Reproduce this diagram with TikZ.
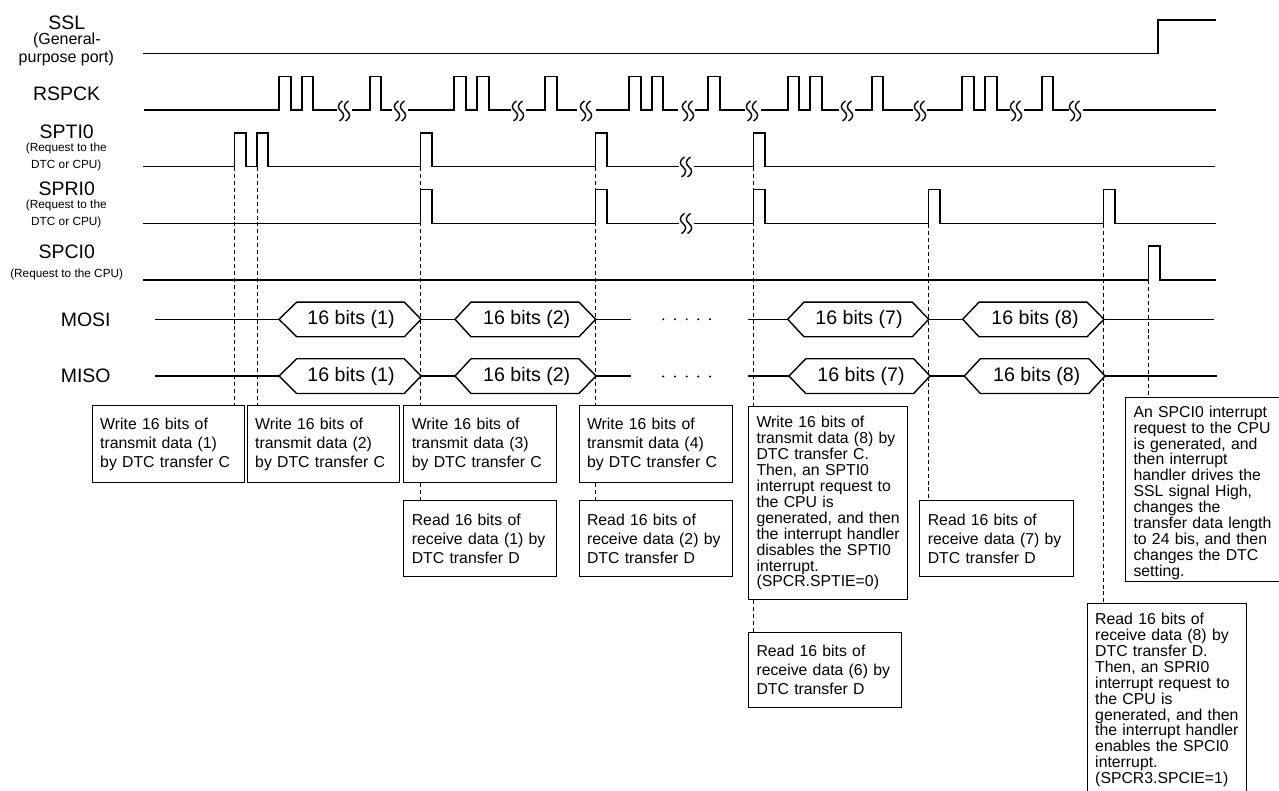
\documentclass[tikz,border=0pt]{standalone}
\usepackage{fontspec}
\setmainfont{Liberation Sans}
\tikzset{
  sig/.style={line width=1.1pt,line join=miter},
  hexline/.style={line width=1.05pt,line join=miter},
  squigline/.style={line width=1.05pt},
  dashline/.style={line width=0.65pt,dash pattern=on 3pt off 2.2pt},
  boxst/.style={draw,line width=0.8pt,fill=white,inner xsep=0pt,inner ysep=0pt,align=left,font=\fontsize{11.85pt}{14.25pt}\selectfont},
  biglabel/.style={inner sep=0pt,font=\fontsize{14.6pt}{16pt}\selectfont},
  midlabel/.style={inner sep=0pt,font=\fontsize{12pt}{14pt}\selectfont},
  smalllabel/.style={inner sep=0pt,font=\fontsize{8.85pt}{10pt}\selectfont},
  hextext/.style={inner sep=0pt,font=\fontsize{14.7pt}{16pt}\selectfont},
  dotst/.style={circle,fill=black,inner sep=0pt,minimum size=1.6pt}
}
% name, x1, y1, x2, y2, leading(pt), text
\newcommand\tbox[7]{%
  \pgfmathsetmacro\tw{(#4-#2-16)*0.75}%
  \pgfmathsetmacro\bw{(#4-#2)*0.75}%
  \pgfmathsetmacro\bh{(#5-#3)*0.75}%
  \node[boxst,anchor=north west,minimum width=\bw pt,minimum height=\bh pt,text width=\tw pt] (#1) at (#2,#3)
    {\fontsize{11.85pt}{#6pt}\selectfont\lineskiplimit=-10pt #7\par};%
}
% name, left tip, shoulder, shoulder, right tip, mid y, text x, text
\newcommand\hexa[8]{%
  \draw[hexline] (#2,#6) -- (#3,#6-17.2) -- (#4,#6-17.2) -- (#5,#6) -- (#4,#6+17.5) -- (#3,#6+17.5) -- cycle;%
  \node[hextext] (#1) at (#7,#6) {#8};%
}
\newcommand\squig[2]{%
  \foreach \dx in {-3,3}{%
    \draw[squigline] (#1+\dx+1.5,#2-10) .. controls (#1+\dx-4.5,#2-6) and (#1+\dx-3,#2-2.5) .. (#1+\dx,#2)
       .. controls (#1+\dx+3,#2+2.5) and (#1+\dx+4.5,#2+6) .. (#1+\dx-1.5,#2+10);%
  }%
}
\begin{document}
\begin{tikzpicture}[x=0.75pt,y=-0.75pt]
\clip (0,0) rectangle (1279,791);
\fill[white] (0,0) rectangle (1279,791);

% anchors of the dashed guides
\coordinate (ta) at (234.5,167);
\coordinate (tb) at (257,167);
\coordinate (tc) at (420.7,167);
\coordinate (td) at (595.7,167);
\coordinate (te) at (753.5,167);
\coordinate (tf) at (928.7,224);
\coordinate (tg) at (1103.7,224);
\coordinate (th) at (1148.7,280);

% text boxes
\tbox{wa}{91.7}{405.3}{244.3}{481.7}{14.25}{Write 16 bits of\\transmit data (1)\\by DTC transfer C}
\tbox{wb}{246.7}{405.3}{399.3}{481.7}{14.25}{Write 16 bits of\\transmit data (2)\\by DTC transfer C}
\tbox{wc}{403.3}{405.3}{556}{481.7}{14.25}{Write 16 bits of\\transmit data (3)\\by DTC transfer C}
\tbox{wd}{578.5}{405.3}{731.5}{481.7}{14.25}{Write 16 bits of\\transmit data (4)\\by DTC transfer C}
\tbox{we}{748}{406.3}{907.3}{599}{11.95}{Write 16 bits of\\transmit data (8) by\\DTC transfer C.\\Then, an SPTI0\\interrupt request to\\the CPU is\\generated, and then\\the interrupt handler\\disables the SPTI0\\interrupt.\\(SPCR.SPTIE=0)}
\tbox{ra}{403.3}{500.3}{556}{576.3}{14.25}{Read 16 bits of\\receive data (1) by\\DTC transfer D}
\tbox{rb}{578.5}{500.3}{731.5}{576.3}{14.25}{Read 16 bits of\\receive data (2) by\\DTC transfer D}
\tbox{rc}{748}{631.7}{901}{707.3}{14.25}{Read 16 bits of\\receive data (6) by\\DTC transfer D}
\tbox{rd}{919.3}{500.3}{1072.7}{576.3}{14.25}{Read 16 bits of\\receive data (7) by\\DTC transfer D}
\tbox{ci}{1125}{396.7}{1279}{581}{11.95}{\rule{0pt}{13.6pt}An SPCI0 interrupt\\request to the CPU\\is generated, and\\then interrupt\\handler drives the\\SSL signal High,\\changes the\\transfer data length\\to 24 bis, and then\\changes the DTC\\setting.}
\tbox{re}{1086.7}{603}{1246.3}{796}{11.95}{Read 16 bits of\\receive data (8) by\\DTC transfer D.\\Then, an SPRI0\\interrupt request to\\the CPU is\\generated, and then\\the interrupt handler\\enables the SPCI0\\interrupt.\\(SPCR3.SPCIE=1)}

% dashed guides
\draw[dashline] (ta) -- (ta |- wa.north);
\draw[dashline] (tb) -- (tb |- wb.north);
\draw[dashline] (tc) -- (tc |- wc.north);
\draw[dashline] (tc |- wc.south) -- (tc |- ra.north);
\draw[dashline] (td) -- (td |- wd.north);
\draw[dashline] (td |- wd.south) -- (td |- rb.north);
\draw[dashline] (te) -- (te |- we.north);
\draw[dashline] (te |- we.south) -- (te |- rc.north);
\draw[dashline] (tf) -- (tf |- rd.north);
\draw[dashline] (tg) -- (tg |- re.north);
\draw[dashline] (th) -- (th |- ci.north);

% SSL
\draw[sig] (143,53.5) -| (1158,20) -- (1216,20);

% RSPCK
\draw[sig] (144,110) -| (279,76.5) -| (291,110) -| (302,76.5) -| (313,110) -- (336.7,110);
\draw[sig] (351.7,110) -| (370,76.5) -| (381,110) -- (392,110);
\draw[sig] (408,110) -| (454,76.5) -| (466,110) -| (477,76.5) -| (489,110) -- (511,110);
\draw[sig] (526,110) -| (545,76.5) -| (557,110) -- (577,110);
\draw[sig] (596,110) -| (629,76.5) -| (641,110) -| (652,76.5) -| (663,110) -- (678,110);
\draw[sig] (695,110) -| (708,76.5) -| (720,110) -- (745,110);
\draw[sig] (761,110) -| (788,76.5) -| (799,110) -| (810,76.5) -| (822,110) -- (839,110);
\draw[sig] (855,110) -| (872,76.5) -| (883,110) -- (913,110);
\draw[sig] (927,110) -| (962,76.5) -| (974,110) -| (985,76.5) -| (997,110) -- (1010,110);
\draw[sig] (1024,110) -| (1042,76.5) -| (1053,110) -- (1069,110);
\draw[sig] (1083,110) -- (1216,110);
\squig{344}{111}\squig{400}{111}\squig{518}{111}\squig{586}{111}\squig{688}{111}
\squig{752}{111}\squig{847}{111}\squig{920}{111}\squig{1016}{111}\squig{1075}{111}

% SPTI0
\draw[sig] (143,166.7) -| (234.5,133) -| (246,166.7) -| (257,133) -| (268,166.7) -| (420.7,133) -| (432,166.7) -| (595.7,133) -| (607,166.7) -- (679,166.7);
\draw[sig] (694,166.7) -| (753.5,133) -| (765,166.7) -- (1215,166.7);
\squig{686}{167}

% SPRI0
\draw[sig] (143,223.5) -| (420.7,189.3) -| (432,223.5) -| (595.7,189.3) -| (607,223.5) -- (679,223.5);
\draw[sig] (694,223.5) -| (753.5,189.3) -| (765,223.5) -| (928.5,189.3) -| (940,223.5) -| (1103.5,189.3) -| (1115,223.5) -- (1216,223.5);
\squig{686}{223.5}

% SPCI0
\draw[sig] (143,280) -| (1148.5,245.8) -| (1160,280) -- (1216,280);

% MOSI
\hexa{ma}{279}{296.7}{404.3}{421}{319.3}{351}{16 bits (1)}
\hexa{mb}{455}{471}{579}{595.7}{319.3}{526.7}{16 bits (2)}
\hexa{mg}{787.7}{804}{912.3}{928.7}{319.3}{859}{16 bits (7)}
\hexa{mh}{962.7}{979}{1087}{1104}{319.3}{1035}{16 bits (8)}
\draw[sig] (155,319.3) -- (279,319.3);
\draw[sig] (421,319.3) -- (455,319.3);
\draw[sig] (595.7,319.3) -- (631,319.3);
\draw[sig] (747.7,319.3) -- (787.7,319.3);
\draw[sig] (928.7,319.3) -- (962.7,319.3);
\draw[sig] (1104,319.3) -- (1214,319.3);

% MISO
\hexa{sa}{279}{296.7}{404.3}{421}{376}{351}{16 bits (1)}
\hexa{sb}{455}{471}{579}{596}{376}{526.7}{16 bits (2)}
\hexa{sg}{789}{805.7}{913.7}{930}{376}{861}{16 bits (7)}
\hexa{sh}{964.3}{980.3}{1089}{1105}{376}{1036.7}{16 bits (8)}
\draw[sig] (155,376) -- (279,376);
\draw[sig] (421,376) -- (455,376);
\draw[sig] (596,376) -- (631,376);
\draw[sig] (747.7,376) -- (789,376);
\draw[sig] (930,376) -- (964.3,376);
\draw[sig] (1105,376) -- (1217,376);

% ellipsis dots
\foreach \n/\xx in {a/663.3,b/675,c/686.7,d/698.3,e/710}{
  \node[dotst] (m\n) at (\xx,319.3) {};
  \node[dotst] (s\n) at (\xx,376.5) {};
}

% signal names
\node[biglabel] (lssl) at (66.7,22.7) {SSL};
\node[midlabel] (lgen) at (66.8,40.7) {(General-};
\node[midlabel] (lpur) at (66.3,58) {purpose port)};
\node[biglabel] (lrsp) at (66.7,94) {RSPCK};
\node[biglabel] (ltx) at (66.7,132) {SPTI0};
\node[smalllabel] (ltxa) at (66.3,148.3) {(Request to the};
\node[smalllabel] (ltxb) at (66.3,165.7) {DTC or CPU)};
\node[biglabel] (lrx) at (66.7,189) {SPRI0};
\node[smalllabel] (lrxa) at (66.3,205.3) {(Request to the};
\node[smalllabel] (lrxb) at (66.3,222.7) {DTC or CPU)};
\node[biglabel] (lci) at (66.7,252) {SPCI0};
\node[smalllabel] (lcia) at (66.7,274.7) {(Request to the CPU)};
\node[biglabel] (lmo) at (85.7,320) {MOSI};
\node[biglabel] (lmi) at (85.7,376) {MISO};
\end{tikzpicture}
\end{document}
